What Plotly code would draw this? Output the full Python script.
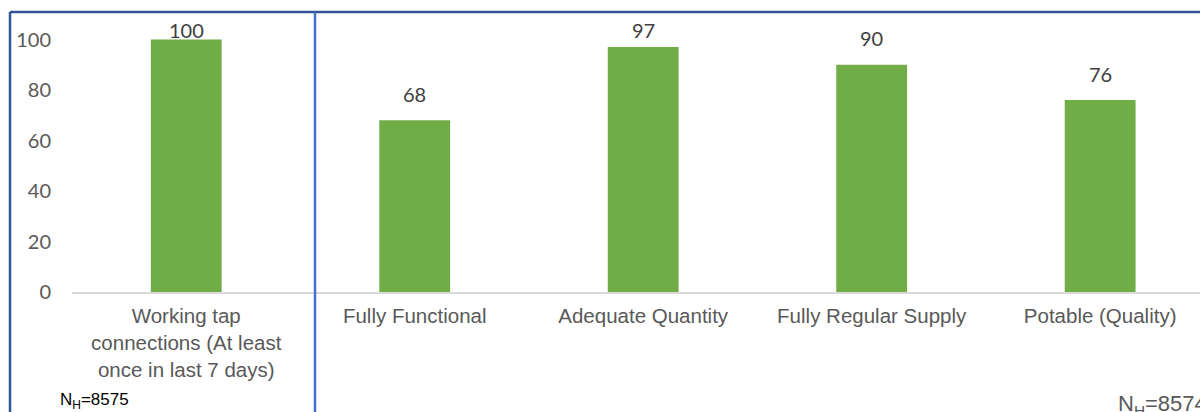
import plotly.graph_objects as go

# Household tap-connection indicators (percent)
categories = [
    "Working tap<br>connections (At least<br>once in last 7 days)",
    "Fully Functional",
    "Adequate Quantity",
    "Fully Regular Supply",
    "Potable (Quality)",
]
values = [100, 68, 97, 90, 76]
y_ticks = [0, 20, 40, 60, 80, 100]
sample_left = "N<sub>H</sub>=8575"
sample_right = "N<sub>H</sub>=8574"

BAR_GREEN = "#70AD47"
TEXT_GREY = "#595959"

fig = go.Figure()
fig.add_trace(go.Bar(
    x=list(range(len(categories))),
    y=values,
    marker=dict(color=BAR_GREEN, line=dict(width=0)),
    width=0.31,
    hoverinfo="skip",
))

# value labels above the bars, held below the top of the chart area
for i, v in enumerate(values):
    fig.add_annotation(
        x=i, y=min(v + 10.5, 103.6), text=str(v), showarrow=False,
        xanchor="center", yanchor="middle",
        font=dict(family="Lato, sans-serif", size=20, color="#404040"),
    )

fig.update_layout(
    width=1200, height=412,
    margin=dict(l=72, r=0, t=12, b=120),
    paper_bgcolor="white", plot_bgcolor="white",
    showlegend=False,
    xaxis=dict(
        range=[-0.5, 4.437],
        tickmode="array",
        tickvals=list(range(len(categories))),
        ticktext=categories,
        tickfont=dict(family="Liberation Sans, Arial, sans-serif", size=20.5, color=TEXT_GREY),
        showgrid=False, zeroline=False,
        showline=True, linecolor="#D9D9D9", linewidth=1.5,
        ticks="", ticklabelstandoff=5,
    ),
    yaxis=dict(
        range=[0, 110.9],
        tickmode="array", tickvals=y_ticks,
        tickfont=dict(family="Lato, sans-serif", size=20, color=TEXT_GREY),
        showgrid=False, zeroline=False, showline=False,
        ticks="", ticklabelstandoff=20,
    ),
)

# outer frame and divider
top = (412 - 12 - 120) / 280
fig.add_shape(type="line", xref="paper", yref="paper",
              x0=-62 / 1128, x1=1.01, y0=top, y1=top,
              line=dict(color="#2F5597", width=2.5))
fig.add_shape(type="line", xref="paper", yref="paper",
              x0=-62 / 1128, x1=-62 / 1128, y0=top, y1=-130 / 280,
              line=dict(color="#2F5597", width=2.5))
fig.add_shape(type="line", xref="paper", yref="paper",
              x0=(315 - 72) / 1128, x1=(315 - 72) / 1128, y0=top, y1=-130 / 280,
              line=dict(color="#4472C4", width=2.5))

# sample sizes
fig.add_annotation(xref="paper", yref="paper", x=(58 - 72) / 1128, y=-(401 - 292) / 280,
                   text=sample_left, showarrow=False, xanchor="left", yanchor="middle",
                   font=dict(family="Liberation Sans, Arial, sans-serif", size=17, color="#000000"))
fig.add_annotation(xref="paper", yref="paper", x=(1116 - 72) / 1128, y=-(405 - 292) / 280,
                   text=sample_right, showarrow=False, xanchor="left", yanchor="middle",
                   font=dict(family="Liberation Sans, Arial, sans-serif", size=22, color=TEXT_GREY))

fig.write_html("out.html")
